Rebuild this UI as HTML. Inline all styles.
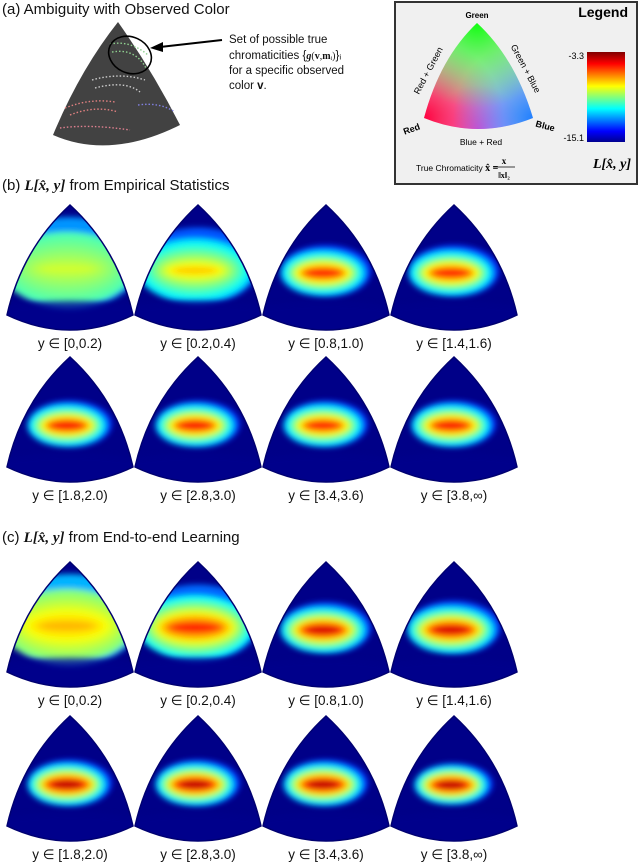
<!DOCTYPE html>
<html><head><meta charset="utf-8"><style>
html,body{margin:0;padding:0;background:#fff;}
svg{display:block;font-family:"Liberation Sans",sans-serif;}
</style></head><body>
<svg id="fig" width="640" height="865" viewBox="0 0 640 865" xmlns="http://www.w3.org/2000/svg">
<defs>
<filter id="blur3" x="-50%" y="-50%" width="200%" height="200%"><feGaussianBlur stdDeviation="3"/></filter>
<linearGradient id="cbar" x1="0" y1="1" x2="0" y2="0">
<stop offset="0" stop-color="#00008f"/><stop offset="0.12" stop-color="#0000ff"/><stop offset="0.37" stop-color="#00ffff"/><stop offset="0.62" stop-color="#ffff00"/><stop offset="0.87" stop-color="#ff0000"/><stop offset="1" stop-color="#800000"/>
</linearGradient>
<radialGradient id="gR" cx="424" cy="118" r="80" gradientUnits="userSpaceOnUse"><stop offset="0" stop-color="#ff0040"/><stop offset="1" stop-color="#ff0040" stop-opacity="0"/></radialGradient>
<radialGradient id="gG" cx="477" cy="23" r="85" gradientUnits="userSpaceOnUse"><stop offset="0" stop-color="#10ff10"/><stop offset="1" stop-color="#40ff40" stop-opacity="0"/></radialGradient>
<radialGradient id="gB" cx="533" cy="118" r="80" gradientUnits="userSpaceOnUse"><stop offset="0" stop-color="#2080ff"/><stop offset="1" stop-color="#2080ff" stop-opacity="0"/></radialGradient>
<radialGradient id="gM" cx="478" cy="130" r="45" gradientUnits="userSpaceOnUse"><stop offset="0" stop-color="#ff60ff"/><stop offset="1" stop-color="#ff60ff" stop-opacity="0"/></radialGradient>
</defs>

<text x="2" y="14" font-size="15" fill="#111">(a) Ambiguity with Observed Color</text>
<g>
<path d="M118,22 Q80,70 53,135 Q110,160 180,125 Q152,70 118,22 Z" fill="#424242"/>
<g fill="none" stroke-dasharray="1.5 2" stroke-width="1.4">
<path d="M110,44 Q130,40 148,55" stroke="#8fd08f"/>
<path d="M112,52 Q135,48 146,68" stroke="#8fd08f"/>
<path d="M92,80 Q120,72 145,80" stroke="#cccccc"/>
<path d="M95,88 Q125,80 140,92" stroke="#cccccc"/>
<path d="M65,108 Q90,98 115,102" stroke="#e08080"/>
<path d="M70,115 Q95,105 118,112" stroke="#e08080"/>
<path d="M138,105 Q160,102 175,112" stroke="#8080e0"/>
<path d="M60,128 Q90,124 130,130" stroke="#e08090"/>
</g>
<ellipse cx="130" cy="55" rx="22" ry="18" transform="rotate(25 130 55)" fill="none" stroke="#000" stroke-width="1.6"/>
</g>
<g>
<line x1="222" y1="40" x2="160" y2="47" stroke="#000" stroke-width="2"/>
<polygon points="150,48 163,42 163,52" fill="#000"/>
</g>
<g font-size="11.5" fill="#111">
<text x="229" y="43">Set of possible true</text>
<text x="229" y="59">chromaticities {<tspan font-family="Liberation Serif" font-style="italic" font-weight="bold" font-size="10">g</tspan><tspan font-family="Liberation Serif" font-size="10">(<tspan font-weight="bold">v</tspan>,<tspan font-weight="bold">m</tspan>ᵢ)</tspan>}ᵢ</text>
<text x="229" y="74">for a specific observed</text>
<text x="229" y="89">color <tspan font-weight="bold">v</tspan>.</text>
</g>

<g>
<rect x="395" y="2" width="242" height="182" fill="#f0f0f0" stroke="#333" stroke-width="2"/>
<text x="628" y="17" font-size="14" font-weight="bold" text-anchor="end" fill="#000">Legend</text>
<g>
<path d="M477,23 Q440,58 424,118 Q478,140 533,118 Q515,58 477,23 Z" fill="#e8d8e0"/>
<path d="M477,23 Q440,58 424,118 Q478,140 533,118 Q515,58 477,23 Z" fill="url(#gM)"/>
<path d="M477,23 Q440,58 424,118 Q478,140 533,118 Q515,58 477,23 Z" fill="url(#gR)"/>
<path d="M477,23 Q440,58 424,118 Q478,140 533,118 Q515,58 477,23 Z" fill="url(#gB)"/>
<path d="M477,23 Q440,58 424,118 Q478,140 533,118 Q515,58 477,23 Z" fill="url(#gG)"/>
</g>
<text x="477" y="18" font-size="8" font-weight="bold" text-anchor="middle">Green</text>
<text x="412" y="132" font-size="9" font-weight="bold" text-anchor="middle" transform="rotate(-20 412 130)">Red</text>
<text x="545" y="129" font-size="9" font-weight="bold" text-anchor="middle" transform="rotate(15 545 127)">Blue</text>
<text x="481" y="145" font-size="8.5" text-anchor="middle">Blue + Red</text>
<text x="431" y="72" font-size="9" text-anchor="middle" transform="rotate(-62 431 72)">Red + Green</text>
<text x="523" y="70" font-size="9" text-anchor="middle" transform="rotate(62 523 70)">Green + Blue</text>
<text x="416" y="171" font-size="8.5">True Chromaticity <tspan font-family="Liberation Serif" font-weight="bold" font-size="10">x̂ =</tspan></text>
<text x="504" y="164" font-size="9" font-family="Liberation Serif" font-weight="bold" text-anchor="middle">x</text>
<line x1="493" y1="167" x2="515" y2="167" stroke="#000" stroke-width="0.8"/>
<text x="504" y="178" font-size="8" font-family="Liberation Serif" font-weight="bold" text-anchor="middle">‖x‖₂</text>
<rect x="587" y="52" width="38" height="90" fill="url(#cbar)"/>
<text x="584" y="59" font-size="9" text-anchor="end">-3.3</text>
<text x="584" y="141" font-size="9" text-anchor="end">-15.1</text>
<text x="612" y="168" font-size="14" font-family="Liberation Serif" font-style="italic" font-weight="bold" text-anchor="middle">L[x̂, y]</text>
</g>

<text x="2" y="190" font-size="15" fill="#111">(b) <tspan font-family="Liberation Serif" font-style="italic" font-weight="bold">L[x̂, y]</tspan> from Empirical Statistics</text>
<text x="2" y="542" font-size="15" fill="#111">(c) <tspan font-family="Liberation Serif" font-style="italic" font-weight="bold">L[x̂, y]</tspan> from End-to-end Learning</text>

<g id="panels"></g>
</svg>
<script>
const binLabels = ["y ∈ [0,0.2)","y ∈ [0.2,0.4)","y ∈ [0.8,1.0)","y ∈ [1.4,1.6)","y ∈ [1.8,2.0)","y ∈ [2.8,3.0)","y ∈ [3.4,3.6)","y ∈ [3.8,∞)"];
const empBg   = [0.45,0.35,0.30,0.30,0.30,0.30,0.30,0.30];
const empPeak = [0.58,0.68,0.86,0.86,0.88,0.88,0.86,0.88];
const empSpread=[1.00,0.85,0.60,0.60,0.55,0.55,0.55,0.55];
const e2eBg   = [0.50,0.38,0.32,0.32,0.30,0.30,0.30,0.30];
const e2ePeak = [0.70,0.86,0.92,0.92,0.95,0.95,0.95,0.95];
const e2eSpread=[1.00,0.85,0.60,0.62,0.55,0.55,0.55,0.50];

const colX = [70,198,326,454];
const rowApex = [205,357,562,716];
const NS='http://www.w3.org/2000/svg';
function jet(t){
  const c=v=>Math.round(255*Math.max(0,Math.min(1,v)));
  const r=c(1.5-Math.abs(4*t-3)), g=c(1.5-Math.abs(4*t-2)), b=c(1.5-Math.abs(4*t-1));
  return `rgb(${r},${g},${b})`;
}
const TRI="M0,0 Q-48,44 -63,110 Q0,140 63,110 Q48,44 0,0 Z";
const root=document.getElementById('panels');
let uid=0;
function drawPanel(cx,ay,bg,peak,spread,label,name){
  const g=document.createElementNS(NS,'g');
  g.setAttribute('transform',`translate(${cx},${ay})`);
  
  
  const id='clip'+(uid++);
  const cp=document.createElementNS(NS,'clipPath');cp.setAttribute('id',id);
  const p=document.createElementNS(NS,'path');p.setAttribute('d',TRI);cp.appendChild(p);g.appendChild(cp);
  const inner=document.createElementNS(NS,'g');inner.setAttribute('clip-path',`url(#${id})`);
  const base=document.createElementNS(NS,'path');base.setAttribute('d',TRI);base.setAttribute('fill','#000088');inner.appendChild(base);
  const blobs=document.createElementNS(NS,'g');blobs.setAttribute('filter','url(#blur3)');
  const halo=document.createElementNS(NS,'ellipse');
  halo.setAttribute('cx',0);halo.setAttribute('cy',58+(1-spread)*20);
  halo.setAttribute('rx',62*spread+8);halo.setAttribute('ry',50*spread-4);
  halo.setAttribute('fill',jet(bg*0.6));blobs.appendChild(halo);
  const steps=7;
  for(let i=0;i<=steps;i++){
    const f=i/steps;
    const lvl=bg+(peak-bg)*f;
    const e=document.createElementNS(NS,'ellipse');
    e.setAttribute('cx',-3);
    e.setAttribute('cy',64+(1-spread)*10);
    e.setAttribute('rx',(58*spread+8)*(1-f*0.62));
    e.setAttribute('ry',(34*spread)*Math.pow(1-f,1.1)+3);
    e.setAttribute('fill',jet(lvl));
    blobs.appendChild(e);
  }
  inner.appendChild(blobs);
  const band=document.createElementNS(NS,'path');
  band.setAttribute('d','M-70,102 Q0,90 70,102 L70,140 L-70,140 Z');
  band.setAttribute('fill','#00008c');band.setAttribute('opacity',0.75);band.setAttribute('filter','url(#blur3)');
  inner.appendChild(band);
  g.appendChild(inner);
  const rim=document.createElementNS(NS,'path');
  rim.setAttribute('d',TRI);rim.setAttribute('fill','none');rim.setAttribute('stroke','#000070');rim.setAttribute('stroke-width','1.5');
  g.appendChild(rim);
  const t=document.createElementNS(NS,'text');
  t.setAttribute('x',0);t.setAttribute('y',143);t.setAttribute('font-size','13.5');
  t.setAttribute('text-anchor','middle');t.setAttribute('fill','#111');
  
  
  t.textContent=label;g.appendChild(t);
  root.appendChild(g);
}
for(let i=0;i<8;i++){
  const r=Math.floor(i/4), c=i%4;
  drawPanel(colX[c],rowApex[r],empBg[i],empPeak[i],empSpread[i],binLabels[i],'empirical-heatmap');
  drawPanel(colX[c],rowApex[r+2],e2eBg[i],e2ePeak[i],e2eSpread[i],binLabels[i],'learned-heatmap');
}
</script>
</body></html>
